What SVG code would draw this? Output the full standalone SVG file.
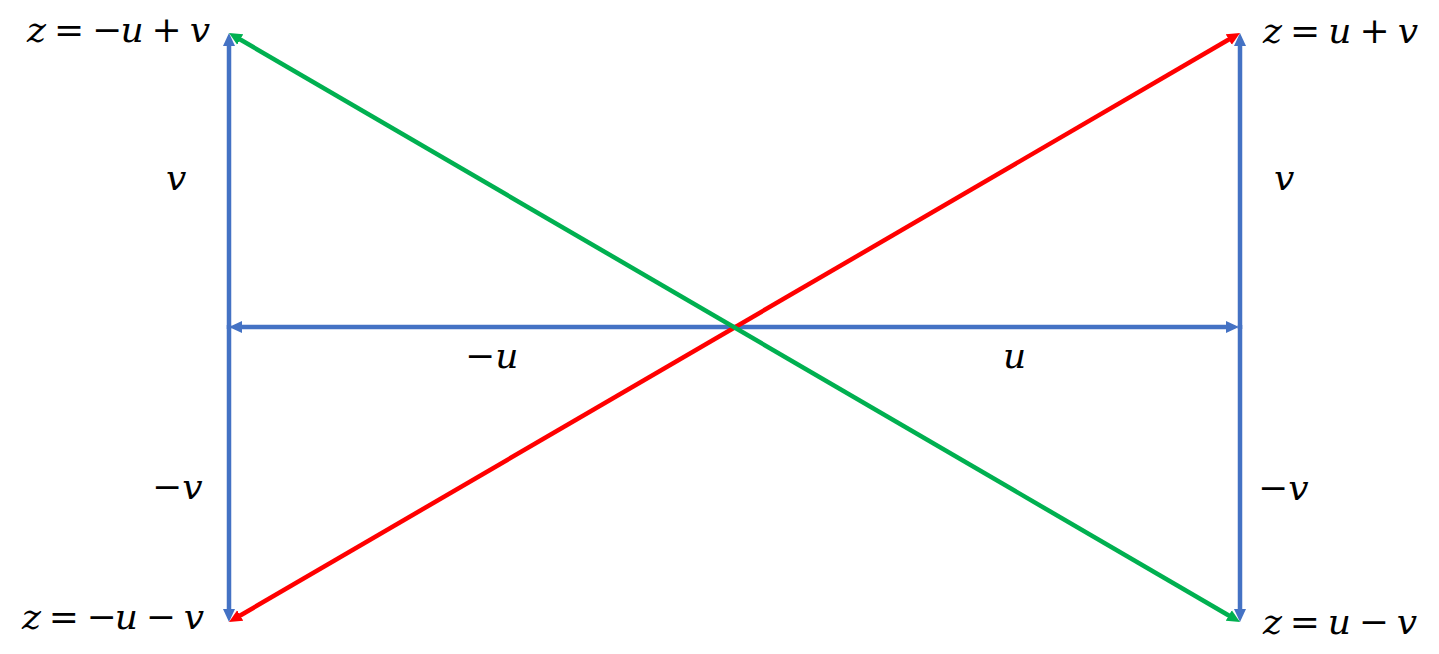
<svg xmlns="http://www.w3.org/2000/svg" width="1439" height="654" viewBox="0 0 1439 654">
<style>
.lbl{font-family:"DejaVu Serif","Liberation Serif",serif;font-size:36px;fill:#000}
.it{font-style:italic}
.op{font-style:normal}
.b{stroke:#4472C4;stroke-width:4.5;fill:none}
.r{stroke:#FF0000;stroke-width:4.5;fill:none}
.g{stroke:#00B050;stroke-width:4.5;fill:none}
</style>
<defs>
<marker id="ab" markerUnits="userSpaceOnUse" markerWidth="14" markerHeight="14" viewBox="0 0 14 14" refX="2" refY="7" orient="auto-start-reverse"><path d="M0,1 L13,7 L0,13 z" fill="#4472C4"/></marker>
<marker id="ar" markerUnits="userSpaceOnUse" markerWidth="14" markerHeight="14" viewBox="0 0 14 14" refX="2" refY="7" orient="auto-start-reverse"><path d="M0,1 L13,7 L0,13 z" fill="#FF0000"/></marker>
<marker id="ag" markerUnits="userSpaceOnUse" markerWidth="14" markerHeight="14" viewBox="0 0 14 14" refX="2" refY="7" orient="auto-start-reverse"><path d="M0,1 L13,7 L0,13 z" fill="#00B050"/></marker>
</defs>
<g id="connectors">
<line class="b" x1="735" y1="327" x2="240" y2="327" marker-end="url(#ab)"/>
<line class="b" x1="735" y1="327" x2="1228" y2="327" marker-end="url(#ab)"/>
<line class="b" x1="229" y1="329" x2="229" y2="44" marker-end="url(#ab)"/>
<line class="b" x1="229" y1="325" x2="229" y2="611" marker-end="url(#ab)"/>
<line class="b" x1="1240" y1="329" x2="1240" y2="44" marker-end="url(#ab)"/>
<line class="b" x1="1240" y1="325" x2="1240" y2="611" marker-end="url(#ab)"/>
<line class="r" x1="238.5" y1="616.5" x2="1230.5" y2="38.5" marker-start="url(#ar)" marker-end="url(#ar)"/>
<line class="g" x1="238.5" y1="38.5" x2="1230.5" y2="616.5" marker-start="url(#ag)" marker-end="url(#ag)"/>
</g>
<g id="node-tl"><text class="lbl" x="27" y="42" textLength="183" lengthAdjust="spacing"><tspan class="it">z</tspan><tspan class="op"> = −</tspan><tspan class="it">u</tspan><tspan class="op"> + </tspan><tspan class="it">v</tspan></text></g>
<g id="node-tr"><text class="lbl" x="1263" y="43" textLength="155" lengthAdjust="spacing"><tspan class="it">z</tspan><tspan class="op"> = </tspan><tspan class="it">u</tspan><tspan class="op"> + </tspan><tspan class="it">v</tspan></text></g>
<g id="node-bl"><text class="lbl" x="22" y="629" textLength="182" lengthAdjust="spacing"><tspan class="it">z</tspan><tspan class="op"> = −</tspan><tspan class="it">u</tspan><tspan class="op"> − </tspan><tspan class="it">v</tspan></text></g>
<g id="node-br"><text class="lbl" x="1263" y="634" textLength="154" lengthAdjust="spacing"><tspan class="it">z</tspan><tspan class="op"> = </tspan><tspan class="it">u</tspan><tspan class="op"> − </tspan><tspan class="it">v</tspan></text></g>
<g id="label-v-left"><text class="lbl it" x="166" y="190">v</text></g>
<g id="label-v-right"><text class="lbl it" x="1274" y="190">v</text></g>
<g id="label-mv-left"><text class="lbl" x="152" y="499"><tspan class="op">−</tspan><tspan class="it">v</tspan></text></g>
<g id="label-mv-right"><text class="lbl" x="1258" y="500"><tspan class="op">−</tspan><tspan class="it">v</tspan></text></g>
<g id="label-mu"><text class="lbl" x="465" y="368"><tspan class="op">−</tspan><tspan class="it">u</tspan></text></g>
<g id="label-u"><text class="lbl it" x="1003" y="368">u</text></g>
</svg>
